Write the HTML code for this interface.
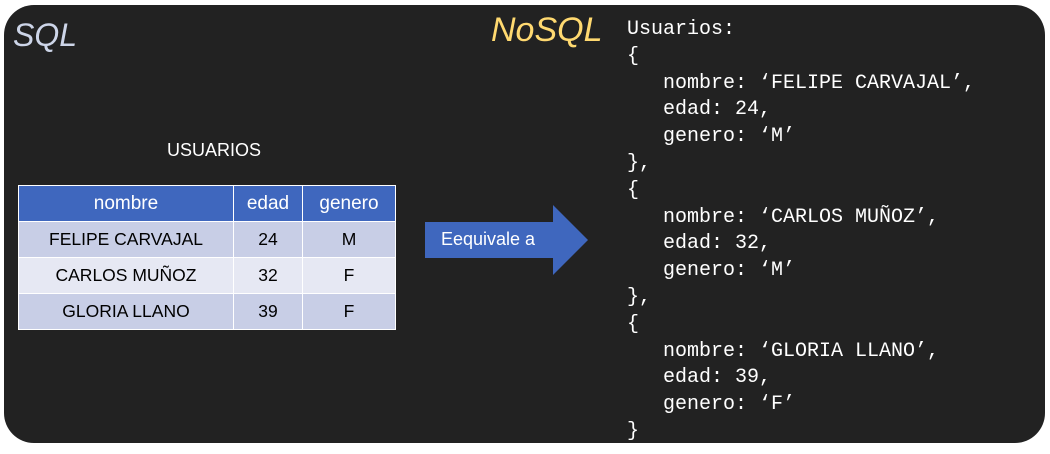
<!DOCTYPE html>
<html><head><meta charset="utf-8"><style>
body{margin:0;width:1050px;height:454px;background:#fff;position:relative;overflow:hidden;font-family:"Liberation Sans",sans-serif}
.panel{position:absolute;left:4px;top:5px;width:1041px;height:438px;background:#222222;border-radius:30px}
.abs{position:absolute;white-space:pre}
table{position:absolute;left:18px;top:185px;border-collapse:collapse;font-size:17.5px;color:#000}
td{border:1px solid #fff;text-align:center;height:35px;padding:0}
tr.h td{background:#3F67BE;color:#fff;font-size:19px}
tr.a td{background:#C8CEE6}
tr.b td{background:#E6E8F3}
.code{position:absolute;left:627px;top:17px;font-family:"Liberation Mono",monospace;font-size:20px;line-height:26.8px;color:#fff;white-space:pre;margin:0}
</style></head><body>
<div class="panel"></div>
<div class="abs" style="left:13px;top:17px;font-size:32px;font-style:italic;color:#CDD5E8">SQL</div>
<div class="abs" style="left:491px;top:11px;font-size:34px;font-style:italic;color:#FFD970">NoSQL</div>
<div class="abs" style="left:167px;top:140px;font-size:18px;color:#fff">USUARIOS</div>
<table>
<tr class="h"><td style="width:214px">nombre</td><td style="width:68px">edad</td><td style="width:92px">genero</td></tr>
<tr class="a"><td>FELIPE CARVAJAL</td><td>24</td><td>M</td></tr>
<tr class="b"><td>CARLOS MUÑOZ</td><td>32</td><td>F</td></tr>
<tr class="a"><td>GLORIA LLANO</td><td>39</td><td>F</td></tr>
</table>
<svg style="position:absolute;left:0;top:0" width="1050" height="454">
<polygon points="425,222 553,222 553,205 588,240 553,275 553,258 425,258" fill="#3F67BE"/>
</svg>
<div class="abs" style="left:441px;top:229px;font-size:18px;color:#fff">Eequivale a</div>
<pre class="code">Usuarios:
{
   nombre: ‘FELIPE CARVAJAL’,
   edad: 24,
   genero: ‘M’
},
{
   nombre: ‘CARLOS MUÑOZ’,
   edad: 32,
   genero: ‘M’
},
{
   nombre: ‘GLORIA LLANO’,
   edad: 39,
   genero: ‘F’
}</pre>
</body></html>
